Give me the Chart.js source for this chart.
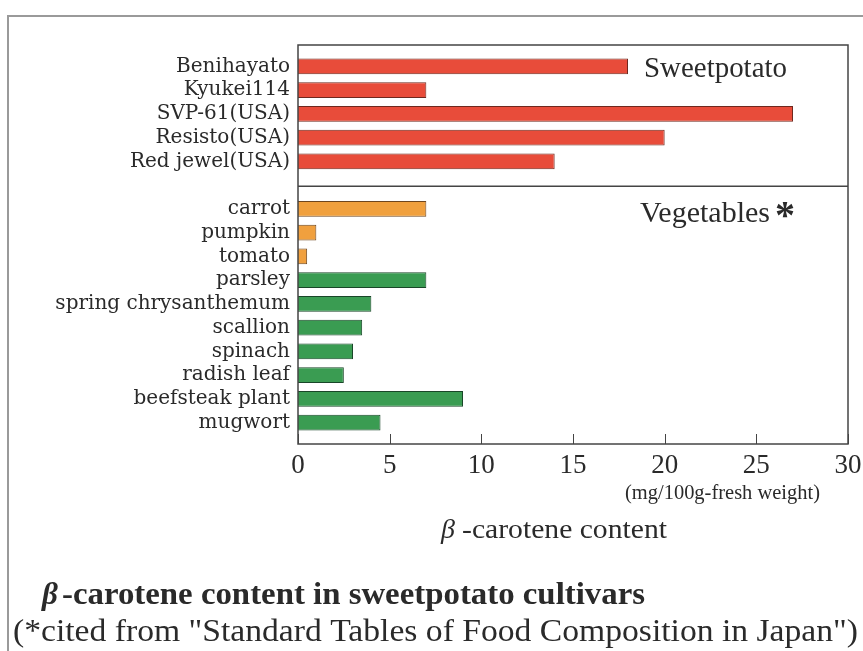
<!DOCTYPE html>
<html>
<head>
<meta charset="utf-8">
<script src="https://cdn.jsdelivr.net/npm/chart.js@4/dist/chart.umd.min.js"></script>
<style>
  html, body { margin: 0; padding: 0; background: #fff; }
  #wrap { width: 863px; height: 651px; }
</style>
</head>
<body>
<div id="wrap"><canvas id="c" width="863" height="651"></canvas></div>
<script>
// ---- data ----
const sweetpotatoLabels = ["Benihayato", "Kyukei114", "SVP-61(USA)", "Resisto(USA)", "Red jewel(USA)"];
const sweetpotatoValues = [18, 7, 27, 20, 14];
const yellowVegLabels = ["carrot", "pumpkin", "tomato"];
const yellowVegValues = [7, 1, 0.5];
const greenVegLabels = ["parsley", "spring chrysanthemum", "scallion", "spinach", "radish leaf", "beefsteak plant", "mugwort"];
const greenVegValues = [7, 4, 3.5, 3, 2.5, 9, 4.5];
const xTickValues = [0, 5, 10, 15, 20, 25, 30];

// category slots: sweetpotato, one blank separator slot, vegetables
const allLabels = [...sweetpotatoLabels, "", ...yellowVegLabels, ...greenVegLabels];
const spStart = 0;
const yvStart = sweetpotatoLabels.length + 1;
const gvStart = yvStart + yellowVegLabels.length;
const slotIndices = allLabels.map((l, i) => i).filter(i => allLabels[i] !== "");

function toPoints(values, start) {
  return values.map((v, i) => ({ x: v, y: start + i }));
}

const SERIF = "'Liberation Serif', 'Times New Roman', serif";

// draw text stretched horizontally so it spans the given width
function fitText(ctx, text, x, y, width) {
  const w = ctx.measureText(text).width;
  ctx.save();
  ctx.translate(x, y);
  ctx.scale(width / w, 1);
  ctx.fillText(text, 0, 0);
  ctx.restore();
}

const decor = {
  id: 'decor',
  afterDraw(chart) {
    const ctx = chart.ctx;
    const a = chart.chartArea;
    const xs = chart.scales.x, ys = chart.scales.y;
    ctx.save();
    // outer frame
    ctx.strokeStyle = '#9a9a9a';
    ctx.lineWidth = 2;
    ctx.beginPath();
    ctx.moveTo(8, 651); ctx.lineTo(8, 16); ctx.lineTo(863, 16);
    ctx.stroke();
    // plot box
    ctx.strokeStyle = '#444';
    ctx.lineWidth = 1.5;
    ctx.strokeRect(a.left, a.top, a.right - a.left, a.bottom - a.top);
    // divider between groups
    const yd = ys.getPixelForValue(sweetpotatoLabels.length) + 1;
    ctx.beginPath();
    ctx.moveTo(a.left, yd); ctx.lineTo(a.right, yd);
    ctx.stroke();
    // inward tick marks
    ctx.lineWidth = 1;
    xTickValues.forEach(v => {
      const px = Math.round(xs.getPixelForValue(v)) + 0.5;
      ctx.beginPath();
      ctx.moveTo(px, a.bottom); ctx.lineTo(px, a.bottom - 10);
      ctx.stroke();
    });
    // group labels
    ctx.fillStyle = '#2a2a2a';
    ctx.textBaseline = 'alphabetic';
    ctx.textAlign = 'left';
    ctx.font = '29px ' + SERIF;
    fitText(ctx, 'Sweetpotato', 644, 77, 143);
    fitText(ctx, 'Vegetables', 640, 222, 130);
    ctx.font = 'bold 40px ' + SERIF;
    ctx.fillText('*', 775, 228);
    // units
    ctx.font = '20px ' + SERIF;
    fitText(ctx, '(mg/100g-fresh weight)', 625, 499, 195);
    // axis title
    ctx.font = 'italic 28px ' + SERIF;
    ctx.fillText('\u03B2', 441, 538);
    ctx.font = '28px ' + SERIF;
    fitText(ctx, '-carotene content', 462, 538, 205);
    // chart title
    ctx.font = 'italic bold 31px ' + SERIF;
    ctx.fillText('\u03B2', 42, 604);
    ctx.font = 'bold 31px ' + SERIF;
    fitText(ctx, '-carotene content in sweetpotato cultivars', 62, 604, 583);
    ctx.font = '31px ' + SERIF;
    fitText(ctx, '(*cited from "Standard Tables of Food Composition in Japan")', 13, 641, 845);
    ctx.restore();
  }
};

const barCommon = { borderWidth: 1, grouped: false, barPercentage: 0.66, categoryPercentage: 1 };

new Chart(document.getElementById('c'), {
  type: 'bar',
  data: {
    datasets: [
      Object.assign({ label: 'Sweetpotato', data: toPoints(sweetpotatoValues, spStart),
        backgroundColor: 'rgb(232,76,58)', borderColor: 'rgb(110,40,30)' }, barCommon),
      Object.assign({ label: 'Yellow vegetables', data: toPoints(yellowVegValues, yvStart),
        backgroundColor: 'rgb(240,160,62)', borderColor: 'rgb(110,70,30)' }, barCommon),
      Object.assign({ label: 'Green vegetables', data: toPoints(greenVegValues, gvStart),
        backgroundColor: 'rgb(58,156,82)', borderColor: 'rgb(25,70,40)' }, barCommon)
    ]
  },
  options: {
    indexAxis: 'y',
    responsive: false,
    devicePixelRatio: 1,
    animation: false,
    layout: { padding: { top: 45, right: 15, left: 0, bottom: 0 } },
    plugins: { legend: { display: false }, tooltip: { enabled: false } },
    scales: {
      x: {
        type: 'linear', position: 'bottom', min: 0, max: 30, offset: false,
        grid: { display: false, drawTicks: false },
        border: { display: false },
        afterBuildTicks: s => { s.ticks = xTickValues.map(v => ({ value: v })); },
        afterFit: s => { s.height = 207; s.paddingLeft = 0; s.paddingRight = 0; },
        ticks: { color: '#2a2a2a', padding: 6, font: { family: SERIF, size: 27 } }
      },
      y: {
        type: 'linear', position: 'left', reverse: true, min: -0.9, max: 15.9, offset: false,
        grid: { display: false, drawTicks: false, offset: false },
        border: { display: false },
        afterBuildTicks: s => { s.ticks = slotIndices.map(v => ({ value: v })); },
        afterFit: s => { s.width = 298; s.paddingTop = 0; s.paddingBottom = 0; },
        ticks: {
          color: '#2a2a2a', padding: 8, autoSkip: false,
          font: { family: "'DejaVu Serif', serif", size: 20 },
          callback: v => allLabels[v] || ''
        }
      }
    }
  },
  plugins: [decor]
});
</script>
</body>
</html>
